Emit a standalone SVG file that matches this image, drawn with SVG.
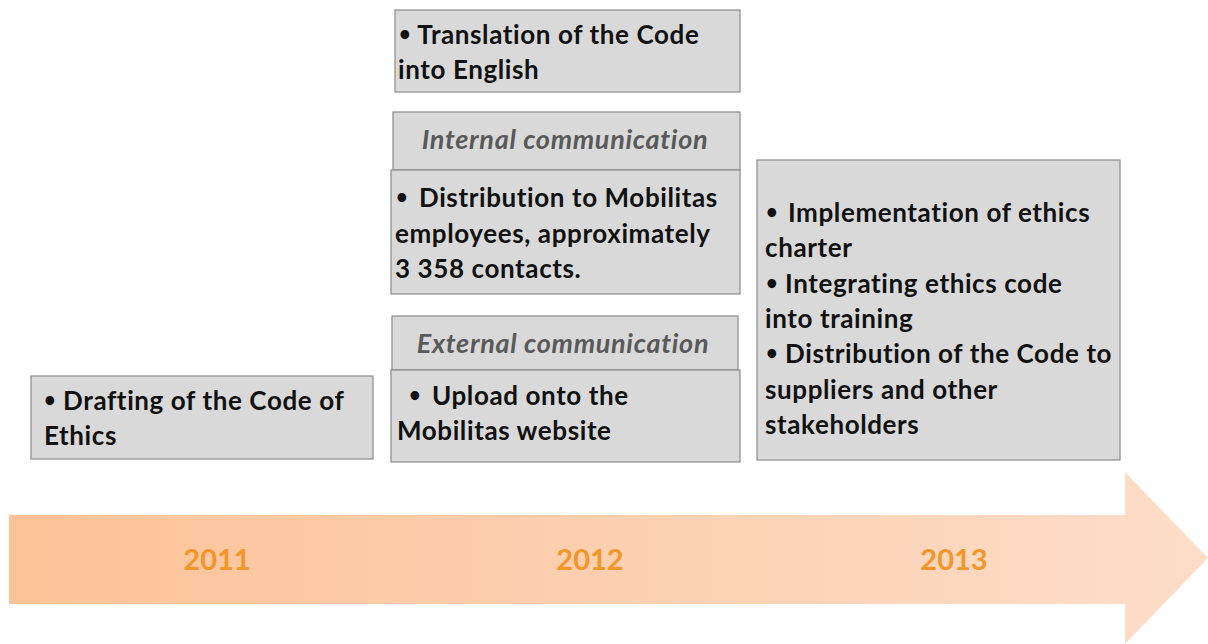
<svg xmlns="http://www.w3.org/2000/svg" width="1208" height="644" viewBox="0 0 1208 644">
<style>
.box{fill:#d9d9d9;stroke:#8a8a8a;stroke-width:1.2}
.t{font-family:Lato,"Open Sans","Liberation Sans",sans-serif;font-weight:700;font-size:26px;letter-spacing:0.6px;fill:#111}
.b{font-size:20px}
.h{font-family:Lato,"Open Sans","Liberation Sans",sans-serif;font-weight:700;font-style:italic;font-size:27px;letter-spacing:0.7px;fill:#595959;text-anchor:middle}
.y{font-family:Lato,"Open Sans","Liberation Sans",sans-serif;font-weight:700;font-size:29px;fill:#f0962a;text-anchor:middle}
</style>
<defs>
<linearGradient id="ag" x1="0" y1="0" x2="1" y2="0">
<stop offset="0" stop-color="#fcc298"/>
<stop offset="1" stop-color="#fdddc8"/>
</linearGradient>
</defs>
<g id="timeline">
<path d="M9,515 H1125 V472 L1208,558 L1125,644 V604 H9 Z" fill="url(#ag)"/>
<text class="y" x="217" y="570">2011</text>
<text class="y" x="590" y="570">2012</text>
<text class="y" x="954" y="570">2013</text>
</g>
<g id="drafting">
<rect class="box" x="31" y="376" width="342" height="83"/>
<text class="t" x="44" y="410"><tspan class="b" dy="-3">•</tspan><tspan dy="3"> Drafting of the Code of</tspan></text>
<text class="t" x="44" y="445">Ethics</text>
</g>
<g id="translation">
<rect class="box" x="395" y="10" width="345" height="82"/>
<text class="t" x="399" y="44"><tspan class="b" dy="-3">•</tspan><tspan dy="3"> Translation of the Code</tspan></text>
<text class="t" x="398" y="79">into English</text>
</g>
<g id="internal">
<rect class="box" x="393" y="112" width="347" height="58"/>
<text class="h" x="565" y="149">Internal communication</text>
</g>
<g id="distribution">
<rect class="box" x="391" y="170" width="349" height="124"/>
<text class="t b" x="396" y="204">•</text>
<text class="t" x="419" y="207">Distribution to Mobilitas</text>
<text class="t" x="395" y="243">employees, approximately</text>
<text class="t" x="395" y="278">3 358 contacts.</text>
</g>
<g id="external">
<rect class="box" x="392" y="316" width="346" height="54"/>
<text class="h" x="563" y="353">External communication</text>
</g>
<g id="upload">
<rect class="box" x="391" y="370" width="349" height="92"/>
<text class="t b" x="409" y="402">•</text>
<text class="t" x="432" y="405">Upload onto the</text>
<text class="t" x="397" y="440">Mobilitas website</text>
</g>
<g id="y2013">
<rect class="box" x="757" y="160" width="363" height="300"/>
<text class="t b" x="766" y="219">•</text>
<text class="t" x="788" y="222">Implementation of ethics</text>
<text class="t" x="765" y="257">charter</text>
<text class="t" x="766" y="293"><tspan class="b" dy="-3">•</tspan><tspan dy="3"> Integrating ethics code</tspan></text>
<text class="t" x="765" y="328">into training</text>
<text class="t" x="766" y="363"><tspan class="b" dy="-3">•</tspan><tspan dy="3"> Distribution of the Code to</tspan></text>
<text class="t" x="765" y="399">suppliers and other</text>
<text class="t" x="765" y="434">stakeholders</text>
</g>
</svg>
